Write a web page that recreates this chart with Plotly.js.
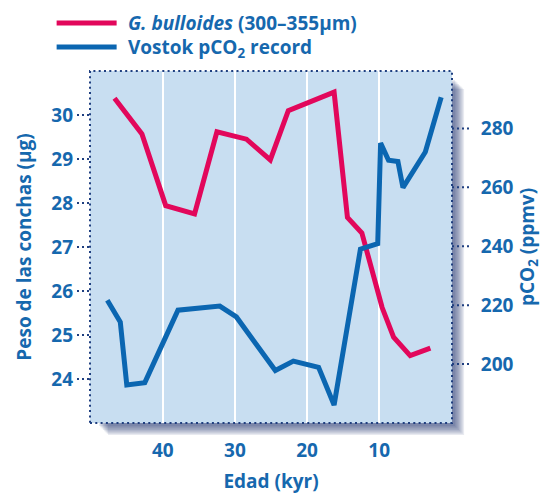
<!DOCTYPE html>
<html>
<head>
<meta charset="utf-8">
<script src="https://cdn.plot.ly/plotly-3.0.1.min.js"></script>
<style>html,body{margin:0;padding:0;background:#fff}#chart{width:548px;height:494px}</style>
</head>
<body>
<div id="chart"></div>
<script>
// G. bulloides shell weight (µg) vs age (kyr)
var bullAge = [46.7, 42.9, 39.6, 35.6, 32.5, 28.4, 25.1, 22.6, 16.25, 14.4, 12.4, 9.6, 8.0, 5.7, 2.9];
var bullWeight = [30.38, 29.57, 27.94, 27.75, 29.62, 29.45, 28.98, 30.10, 30.52, 27.67, 27.32, 25.63, 24.95, 24.53, 24.70];
// Vostok pCO2 (ppmv) vs age (kyr)
var co2Age = [47.7, 45.9, 45.0, 42.5, 37.9, 32.1, 29.8, 24.4, 21.9, 18.4, 16.25, 12.6, 10.2, 9.8, 8.7, 7.4, 6.7, 3.6, 1.4];
var co2Value = [221.7, 214.3, 192.9, 193.7, 218.3, 219.7, 216.0, 197.8, 201.0, 198.9, 186.1, 239.0, 240.9, 275.0, 269.2, 268.8, 259.9, 272.0, 290.6];
// tick labels
var xTicks = [40, 30, 20, 10];
var yTicks = [24, 25, 26, 27, 28, 29, 30];
var y2Ticks = [200, 220, 240, 260, 280];

var txt = '#1668ae';
var navy = '#1f3f80';
var W = 548 - 90 - 96, H = 494 - 71 - 71;

var shapes = [];
// soft drop shadow (right & bottom)
for (var i = 0; i < 8; i++) {
  var off = 3 + i * 1.3;
  shapes.push({type: 'rect', xref: 'paper', yref: 'paper', layer: 'below',
    x0: (off + 6) / W, x1: 1 + off / W, y0: -off / H, y1: 1 - (off + 6) / H,
    fillcolor: 'rgba(30,50,110,0.1)', line: {width: 0}});
}
// plot background
shapes.push({type: 'rect', xref: 'paper', yref: 'paper', layer: 'below',
  x0: 0, x1: 1, y0: 0, y1: 1, fillcolor: '#c8def1', line: {width: 0}});
// dotted frame
shapes.push({type: 'rect', xref: 'paper', yref: 'paper', layer: 'above',
  x0: 0, x1: 1, y0: 0, y1: 1, line: {color: navy, width: 2, dash: '2px,3.3px'}});
// dotted tick marks
yTicks.forEach(function (v) {
  shapes.push({type: 'line', xref: 'paper', yref: 'y', x0: -13 / W, x1: 0, y0: v, y1: v,
    line: {color: navy, width: 2, dash: '2px,3px'}});
});
y2Ticks.forEach(function (v) {
  shapes.push({type: 'line', xref: 'paper', yref: 'y2', x0: 1, x1: 1 + 17 / W, y0: v, y1: v,
    line: {color: navy, width: 2, dash: '2px,3px'}});
});

var data = [
  {x: bullAge, y: bullWeight, type: 'scatter', mode: 'lines', name: '\u2004<i>G. bulloides</i> (300–355μm)',
   line: {color: '#e2075b', width: 5}, yaxis: 'y', legend: 'legend'},
  {x: co2Age, y: co2Value, type: 'scatter', mode: 'lines', name: '\u2004Vostok pCO<sub>2</sub> record',
   line: {color: '#0b66b1', width: 5}, yaxis: 'y2', legend: 'legend2'}
];

var legFont = {size: 19, color: txt, weight: 700};
var layout = {
  width: 548, height: 494,
  margin: {l: 90, r: 96, t: 71, b: 71, pad: 0, autoexpand: false},
  paper_bgcolor: '#ffffff',
  plot_bgcolor: 'rgba(0,0,0,0)',
  font: {family: 'Open Sans, sans-serif', size: 19, color: txt, weight: 700},
  showlegend: true,
  legend: {x: -0.106, xanchor: 'left', y: 1.19, yanchor: 'top', bgcolor: 'rgba(0,0,0,0)',
    itemwidth: 60, font: legFont},
  legend2: {x: -0.106, xanchor: 'left', y: 1.122, yanchor: 'top', bgcolor: 'rgba(0,0,0,0)',
    itemwidth: 60, font: legFont},
  xaxis: {range: [50.1, -0.1], tickvals: xTicks, showgrid: true, gridcolor: '#ffffff', gridwidth: 2,
    zeroline: false, showline: false, ticks: '', ticklabelstandoff: 14,
    title: {text: 'Edad (kyr)', standoff: 18, font: {size: 19, color: txt, weight: 700}}},
  yaxis: {range: [23, 31], tickvals: yTicks, showgrid: false, zeroline: false, showline: false,
    ticks: '', ticklabelstandoff: 16,
    title: {text: 'Peso de las conchas (μg)', standoff: 14, font: {size: 19, color: txt, weight: 700}}},
  yaxis2: {range: [180, 299.5], tickvals: y2Ticks, overlaying: 'y', side: 'right', showgrid: false,
    zeroline: false, showline: false, ticks: 'outside', ticklen: 24, tickcolor: 'rgba(0,0,0,0)',
    title: {text: 'pCO<sub>2</sub> (ppmv)', standoff: 5, font: {size: 19, color: txt, weight: 700}}},
  shapes: shapes
};

Plotly.newPlot('chart', data, layout, {displayModeBar: false, staticPlot: true});
</script>
</body>
</html>
